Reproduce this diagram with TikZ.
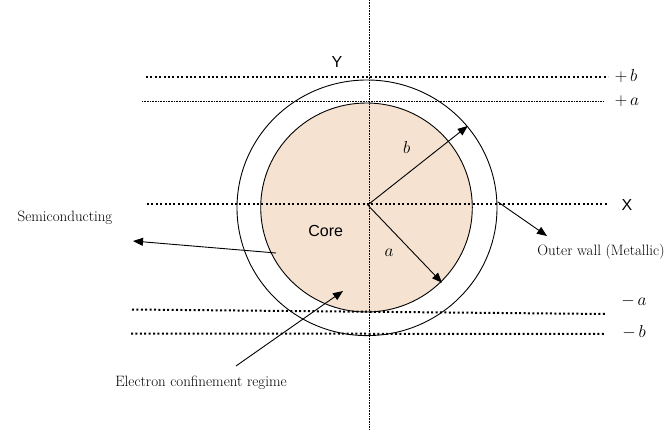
\documentclass[tikz,border=0pt]{standalone}
\usepackage{fontspec}
\newfontfamily\sansf{Liberation Sans}
\usetikzlibrary{arrows.meta}
\definecolor{corefill}{RGB}{245,226,208}
\begin{document}
\begin{tikzpicture}[x=1pt,y=-1pt,
 thickdot/.style={line width=2pt, dash pattern=on 2pt off 2.4pt},
 thindot/.style={line width=0.6pt, dash pattern=on 0.8pt off 0.8pt},
 arr/.style={line width=0.9pt,-{Triangle[length=10pt,width=8pt]}},
 wall/.style={line width=0.9pt},
 lbl/.style={font=\fontsize{15}{18}\selectfont, inner sep=0pt},
 axl/.style={font=\sansf\fontsize{16}{19}\selectfont, inner sep=0pt},
 mth/.style={font=\fontsize{19}{22}\selectfont, inner sep=0pt}]
\useasboundingbox (0,0) rectangle (669,430);
% shells
\coordinate (oc) at (367,207.8);
\coordinate (ic) at (366.5,207.5);
\draw[wall] (oc) ellipse [x radius=130pt, y radius=127.8pt];
\draw[wall, fill=corefill] (ic) ellipse [x radius=105.8pt, y radius=104.5pt];
% axes and guide lines
\coordinate (vtop) at (369,0);
\coordinate (vbot) at (369,430);
\draw[thindot] (vtop) -- (vbot);
\coordinate (pbL) at (146,77.3);  \coordinate (pbR) at (608,77.3);
\coordinate (paL) at (142,101);   \coordinate (paR) at (603,101);
\coordinate (xL) at (147,204.5);  \coordinate (xR) at (608,204.5);
\coordinate (maL) at (132,309.5); \coordinate (maR) at (605,314);
\coordinate (mbL) at (131,333.5); \coordinate (mbR) at (604,334);
\draw[thickdot] (pbL) -- (pbR);
\draw[thindot] (paL) -- (paR);
\draw[thickdot] (xL) -- (xR);
\draw[thickdot] (maL) -- (maR);
\draw[thickdot] (mbL) -- (mbR);
% labels
\node[axl] (Y) at (337,62) {Y};
\node[axl] (X) at (627,204.5) {X};
\node[mth] (lpb) at (626,76) {$+\,b$};
\node[mth] (lpa) at (627,101) {$+\,a$};
\node[mth] (lma) at (634,301) {$-\,a$};
\node[mth] (lmb) at (634,332) {$-\,b$};
\node[axl] (core) at (325.7,231) {Core};
\node[mth] (lb) at (406.7,148) {$b$};
\node[mth] (la) at (389,253) {$a$};
\node[lbl] (semi) at (65,218) {Semiconducting};
\node[lbl] (outer) at (601,252) {Outer wall (Metallic)};
\node[lbl] (elec) at (201,383) {Electron confinement regime};
% radius arrows
\coordinate (c) at (367.7,205);
\coordinate (btip) at (467.7,126);
\coordinate (atip) at (442,282.7);
\draw[arr] (c) -- (btip);
\draw[arr] (c) -- (atip);
% pointer arrows
\coordinate (semiS) at (276,253);
\coordinate (semiT) at (133,241);
\draw[arr] (semiS) -- (semiT);
\coordinate (wallS) at (498,202);
\coordinate (wallT) at (547,236);
\draw[arr] (wallS) -- (wallT);
\coordinate (elecS) at (236,366);
\coordinate (elecT) at (343,291);
\draw[arr] (elecS) -- (elecT);
\end{tikzpicture}
\end{document}
